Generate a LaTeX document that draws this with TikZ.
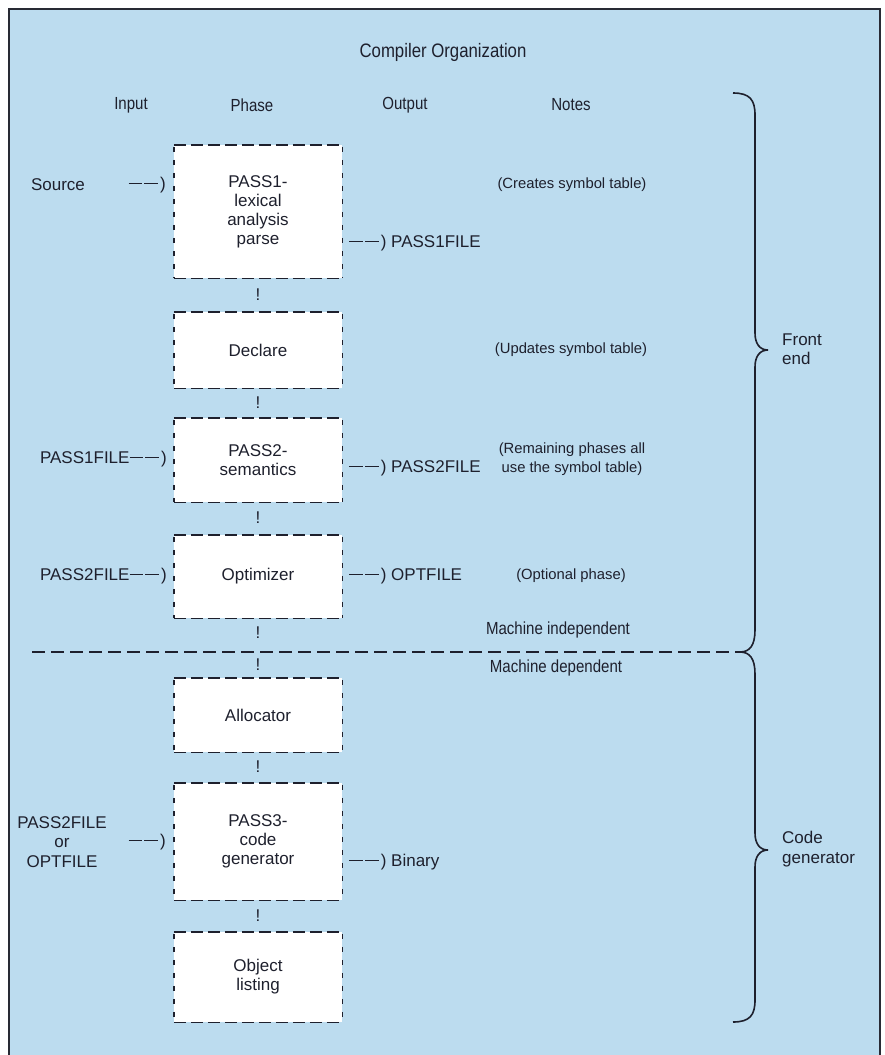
\documentclass[tikz,border=0pt]{standalone}
\usepackage{fontspec}
\setmainfont{Liberation Sans}
\newfontfamily\condfont[FakeStretch=0.86]{Liberation Sans}
\definecolor{bgblue}{RGB}{188,220,239}
\definecolor{ink}{RGB}{30,32,45}
\definecolor{framecol}{RGB}{40,42,52}
\newcommand\dsh{\rule[0.3em]{0.8em}{0.085em}\kern0.14em\rule[0.3em]{0.8em}{0.085em}\kern0.12em)}
\begin{document}
\begin{tikzpicture}[x=1pt,y=-1pt,
  phase/.style={fill=white, minimum width=168pt, align=center,
    font=\fontsize{17}{19}\selectfont, text=ink, inner sep=0pt},
  hside/.style={draw=ink, line width=1.4pt, dash pattern=on 12pt off 5pt},
  vside/.style={draw=ink, line width=1.4pt, dash pattern=on 5pt off 8pt},
  txt/.style={font=\fontsize{17}{19.5}\selectfont, align=center, text=ink, inner sep=0pt},
  note/.style={font=\fontsize{14.8}{19}\selectfont, align=center, text=ink, inner sep=0pt},
  cond/.style={font=\condfont\fontsize{17.5}{19}\selectfont, text=ink, inner sep=0pt},
  bang/.style={txt},
  brace/.style={draw=ink, line width=1.6pt}]
\useasboundingbox (0,0) rectangle (885,1055);
\fill[white] (0,0) rectangle (885,1055);
\fill[bgblue] (9,9) rectangle (880,1055);
\draw[line width=2.8pt, framecol] (9,1055) -- (9,9) -- (880,9) -- (880,1055);

% title and headers
\node[cond, font=\condfont\fontsize{19.5}{22}\selectfont] (title) at (443,52) {Compiler Organization};
\node[cond] (hin) at (131,105) {Input};
\node[cond] (hph) at (252,105) {Phase};
\node[cond] (hout) at (405,105) {Output};
\node[cond] (hnotes) at (571,105) {Notes};

% phase boxes
\node[phase, minimum height=133pt] (p1) at (258,211.5) {PASS1-\\lexical\\analysis\\parse};
\node[phase, minimum height=76pt] (p2) at (258,350) {Declare};
\node[phase, minimum height=84pt] (p3) at (258,460) {PASS2-\\semantics};
\node[phase, minimum height=83pt] (p4) at (258,576.5) {Optimizer};
\node[phase, minimum height=74pt] (p5) at (258,715) {Allocator};
\node[phase, minimum height=117pt] (p6) at (258,841.5) {PASS3-\\code\\generator};
\node[phase, minimum height=90pt] (p7) at (258,977) {Object\\listing};
\foreach \p in {p1,p2,p3,p4,p5,p6,p7}{
  \draw[hside] (\p.north west) -- (\p.north east);
  \draw[hside] (\p.south west) -- (\p.south east);
  \draw[vside] ([yshift=-2pt]\p.north west) -- (\p.south west);
  \draw[vside] ([yshift=-2pt]\p.north east) -- (\p.south east);
}

% "!" links
\node[bang] (b1) at (258,295) {!};
\node[bang] (b2) at (258,403) {!};
\node[bang] (b3) at (258,518) {!};
\node[bang] (b4) at (258,633) {!};
\node[bang] (b5) at (258,665) {!};
\node[bang] (b6) at (258,767) {!};
\node[bang] (b7) at (258,916) {!};

% inputs
\node[txt] (src) at (58,185) {Source};
\node[txt, anchor=east] (srcarr) at (166,185) {\dsh};
\node[txt, anchor=east] (in3) at (167,459) {PASS1FILE\dsh};
\node[txt, anchor=east] (in4) at (167,576) {PASS2FILE\dsh};
\node[txt] (in6) at (62,842) {PASS2FILE\\or\\OPTFILE};
\node[txt, anchor=east] (in6arr) at (166,842) {\dsh};

% outputs
\node[txt, anchor=west] (out1) at (349,243) {\dsh\ PASS1FILE};
\node[txt, anchor=west] (out3) at (349,468) {\dsh\ PASS2FILE};
\node[txt, anchor=west] (out4) at (349,576) {\dsh\ OPTFILE};
\node[txt, anchor=west] (out6) at (349,862) {\dsh\ Binary};

% notes
\node[note] (n1) at (572,185) {(Creates symbol table)};
\node[note] (n2) at (571,350) {(Updates symbol table)};
\node[note] (n3) at (572,459) {(Remaining phases all\\use the symbol table)};
\node[note] (n4) at (571,576) {(Optional phase)};
\node[cond] (mi) at (558,630) {Machine independent};
\node[cond] (md) at (556,668) {Machine dependent};

% separator
\coordinate (sepL) at (32,652);
\coordinate (junc) at (740,652);
\draw[ink, line width=1.4pt, dash pattern=on 13pt off 6pt] (sepL) -- (junc);

% braces
\coordinate (fetop) at (733,93);
\coordinate (fetip) at (768,350);
\coordinate (cgtip) at (768,850);
\coordinate (cgbot) at (733,1022);
\draw[brace] (fetop) .. controls (750,93) and (755,100) .. (755,115) -- (755,333)
  .. controls (755,344) and (760,350) .. (fetip)
  .. controls (760,350) and (755,356) .. (755,367) -- (755,630)
  .. controls (755,645) and (750,652) .. (junc);
\draw[brace] (junc) .. controls (750,652) and (755,659) .. (755,674) -- (755,833)
  .. controls (755,844) and (760,850) .. (cgtip)
  .. controls (760,850) and (755,856) .. (755,867) -- (755,1000)
  .. controls (755,1015) and (750,1022) .. (cgbot);

\node[txt, align=left, anchor=west] (fe) at (782,349) {Front\\end};
\node[txt, align=left, anchor=west] (cg) at (782,849) {Code\\generator};
\end{tikzpicture}
\end{document}
